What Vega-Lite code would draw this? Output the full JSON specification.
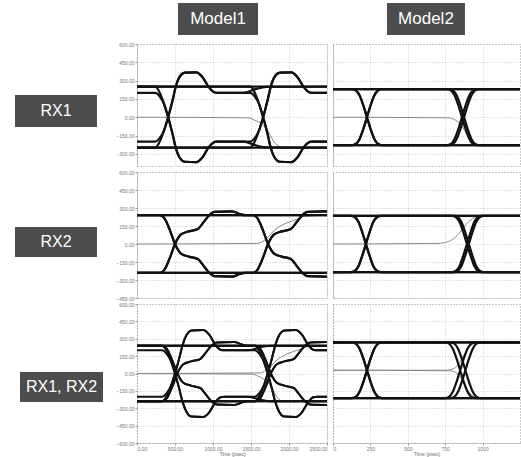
{
"$schema":"https://vega.github.io/schema/vega-lite/v6.json",
"padding":0,
"background":"white",
"columns":3,
"spacing":{"row":6,"column":6},
"bounds":"flush",
"align":"each",
"config":{
 "view":{"stroke":null},
 "axis":{"gridColor":"#bbb","gridDash":[1,2],"gridWidth":0.8,"domainColor":"#999","domainDash":[1,2],"tickColor":"#999","tickSize":2,"labelFontSize":5,"labelColor":"#777","labelFont":"Liberation Sans","labelPadding":1,"labelOverlap":false,"titleFontSize":5,"titleFont":"Liberation Sans","titleColor":"#666","titleFontWeight":"normal","titlePadding":0}
},
"datasets":{
"m1r1":[
{"s":"111","k":"eye","t":0,"v":250},{"s":"111","k":"eye","t":2500,"v":250},
{"s":"000","k":"eye","t":0,"v":-250},{"s":"000","k":"eye","t":2500,"v":-250},
{"s":"011","k":"eye","t":0,"v":-250},{"s":"011","k":"eye","t":240,"v":-250},{"s":"011","k":"eye","t":300,"v":-200},{"s":"011","k":"eye","t":355,"v":-110},{"s":"011","k":"eye","t":410,"v":0},{"s":"011","k":"eye","t":465,"v":130},{"s":"011","k":"eye","t":510,"v":250},{"s":"011","k":"eye","t":560,"v":330},{"s":"011","k":"eye","t":630,"v":365},{"s":"011","k":"eye","t":780,"v":368},{"s":"011","k":"eye","t":860,"v":330},{"s":"011","k":"eye","t":940,"v":250},{"s":"011","k":"eye","t":1000,"v":210},{"s":"011","k":"eye","t":1050,"v":200},{"s":"011","k":"eye","t":1400,"v":200},{"s":"011","k":"eye","t":1560,"v":230},{"s":"011","k":"eye","t":1700,"v":248},{"s":"011","k":"eye","t":2500,"v":250},
{"s":"010","k":"eye","t":0,"v":-200},{"s":"010","k":"eye","t":240,"v":-200},{"s":"010","k":"eye","t":300,"v":-170},{"s":"010","k":"eye","t":355,"v":-110},{"s":"010","k":"eye","t":410,"v":0},{"s":"010","k":"eye","t":465,"v":130},{"s":"010","k":"eye","t":510,"v":250},{"s":"010","k":"eye","t":560,"v":330},{"s":"010","k":"eye","t":630,"v":365},{"s":"010","k":"eye","t":780,"v":368},{"s":"010","k":"eye","t":860,"v":330},{"s":"010","k":"eye","t":940,"v":250},{"s":"010","k":"eye","t":1000,"v":210},{"s":"010","k":"eye","t":1050,"v":200},{"s":"010","k":"eye","t":1490,"v":200},{"s":"010","k":"eye","t":1550,"v":170},{"s":"010","k":"eye","t":1605,"v":110},{"s":"010","k":"eye","t":1660,"v":0},{"s":"010","k":"eye","t":1715,"v":-130},{"s":"010","k":"eye","t":1760,"v":-250},{"s":"010","k":"eye","t":1810,"v":-330},{"s":"010","k":"eye","t":1880,"v":-365},{"s":"010","k":"eye","t":2030,"v":-368},{"s":"010","k":"eye","t":2110,"v":-330},{"s":"010","k":"eye","t":2190,"v":-250},{"s":"010","k":"eye","t":2250,"v":-210},{"s":"010","k":"eye","t":2300,"v":-200},{"s":"010","k":"eye","t":2500,"v":-200},
{"s":"100","k":"eye","t":0,"v":250},{"s":"100","k":"eye","t":240,"v":250},{"s":"100","k":"eye","t":300,"v":200},{"s":"100","k":"eye","t":355,"v":110},{"s":"100","k":"eye","t":410,"v":0},{"s":"100","k":"eye","t":465,"v":-130},{"s":"100","k":"eye","t":510,"v":-250},{"s":"100","k":"eye","t":560,"v":-330},{"s":"100","k":"eye","t":630,"v":-365},{"s":"100","k":"eye","t":780,"v":-368},{"s":"100","k":"eye","t":860,"v":-330},{"s":"100","k":"eye","t":940,"v":-250},{"s":"100","k":"eye","t":1000,"v":-210},{"s":"100","k":"eye","t":1050,"v":-200},{"s":"100","k":"eye","t":1400,"v":-200},{"s":"100","k":"eye","t":1560,"v":-230},{"s":"100","k":"eye","t":1700,"v":-248},{"s":"100","k":"eye","t":2500,"v":-250},
{"s":"101","k":"eye","t":0,"v":200},{"s":"101","k":"eye","t":240,"v":200},{"s":"101","k":"eye","t":300,"v":170},{"s":"101","k":"eye","t":355,"v":110},{"s":"101","k":"eye","t":410,"v":0},{"s":"101","k":"eye","t":465,"v":-130},{"s":"101","k":"eye","t":510,"v":-250},{"s":"101","k":"eye","t":560,"v":-330},{"s":"101","k":"eye","t":630,"v":-365},{"s":"101","k":"eye","t":780,"v":-368},{"s":"101","k":"eye","t":860,"v":-330},{"s":"101","k":"eye","t":940,"v":-250},{"s":"101","k":"eye","t":1000,"v":-210},{"s":"101","k":"eye","t":1050,"v":-200},{"s":"101","k":"eye","t":1490,"v":-200},{"s":"101","k":"eye","t":1550,"v":-170},{"s":"101","k":"eye","t":1605,"v":-110},{"s":"101","k":"eye","t":1660,"v":0},{"s":"101","k":"eye","t":1715,"v":130},{"s":"101","k":"eye","t":1760,"v":250},{"s":"101","k":"eye","t":1810,"v":330},{"s":"101","k":"eye","t":1880,"v":365},{"s":"101","k":"eye","t":2030,"v":368},{"s":"101","k":"eye","t":2110,"v":330},{"s":"101","k":"eye","t":2190,"v":250},{"s":"101","k":"eye","t":2250,"v":210},{"s":"101","k":"eye","t":2300,"v":200},{"s":"101","k":"eye","t":2500,"v":200},
{"s":"110","k":"eye","t":0,"v":250},{"s":"110","k":"eye","t":1490,"v":250},{"s":"110","k":"eye","t":1550,"v":200},{"s":"110","k":"eye","t":1605,"v":110},{"s":"110","k":"eye","t":1660,"v":0},{"s":"110","k":"eye","t":1715,"v":-130},{"s":"110","k":"eye","t":1760,"v":-250},{"s":"110","k":"eye","t":1810,"v":-330},{"s":"110","k":"eye","t":1880,"v":-365},{"s":"110","k":"eye","t":2030,"v":-368},{"s":"110","k":"eye","t":2110,"v":-330},{"s":"110","k":"eye","t":2190,"v":-250},{"s":"110","k":"eye","t":2250,"v":-210},{"s":"110","k":"eye","t":2300,"v":-200},{"s":"110","k":"eye","t":2500,"v":-200},
{"s":"001","k":"eye","t":0,"v":-250},{"s":"001","k":"eye","t":1490,"v":-250},{"s":"001","k":"eye","t":1550,"v":-200},{"s":"001","k":"eye","t":1605,"v":-110},{"s":"001","k":"eye","t":1660,"v":0},{"s":"001","k":"eye","t":1715,"v":130},{"s":"001","k":"eye","t":1760,"v":250},{"s":"001","k":"eye","t":1810,"v":330},{"s":"001","k":"eye","t":1880,"v":365},{"s":"001","k":"eye","t":2030,"v":368},{"s":"001","k":"eye","t":2110,"v":330},{"s":"001","k":"eye","t":2190,"v":250},{"s":"001","k":"eye","t":2250,"v":210},{"s":"001","k":"eye","t":2300,"v":200},{"s":"001","k":"eye","t":2500,"v":200},
{"s":"r","k":"ref","t":0,"v":0},{"s":"r","k":"ref","t":1450,"v":-5},{"s":"r","k":"ref","t":1550,"v":-25},{"s":"r","k":"ref","t":1650,"v":-60},{"s":"r","k":"ref","t":1720,"v":-110},{"s":"r","k":"ref","t":1790,"v":-190},{"s":"r","k":"ref","t":1860,"v":-235},{"s":"r","k":"ref","t":1950,"v":-250},{"s":"r","k":"ref","t":2500,"v":-250}
],
"m2r1":[
{"s":"111","k":"eye","t":0,"v":230},{"s":"111","k":"eye","t":1250,"v":230},
{"s":"000","k":"eye","t":0,"v":-230},{"s":"000","k":"eye","t":1250,"v":-230},
{"s":"011","k":"eye","t":0,"v":-230},{"s":"011","k":"eye","t":127,"v":-230},{"s":"011","k":"eye","t":152,"v":-220},{"s":"011","k":"eye","t":177,"v":-180},{"s":"011","k":"eye","t":202,"v":-100},{"s":"011","k":"eye","t":227,"v":0},{"s":"011","k":"eye","t":252,"v":100},{"s":"011","k":"eye","t":277,"v":180},{"s":"011","k":"eye","t":302,"v":220},{"s":"011","k":"eye","t":327,"v":230},{"s":"011","k":"eye","t":1250,"v":230},
{"s":"010","k":"eye","t":0,"v":-230},{"s":"010","k":"eye","t":127,"v":-230},{"s":"010","k":"eye","t":152,"v":-220},{"s":"010","k":"eye","t":177,"v":-180},{"s":"010","k":"eye","t":202,"v":-100},{"s":"010","k":"eye","t":227,"v":0},{"s":"010","k":"eye","t":252,"v":100},{"s":"010","k":"eye","t":277,"v":180},{"s":"010","k":"eye","t":302,"v":220},{"s":"010","k":"eye","t":327,"v":230},{"s":"010","k":"eye","t":762,"v":230},{"s":"010","k":"eye","t":787,"v":220},{"s":"010","k":"eye","t":812,"v":180},{"s":"010","k":"eye","t":837,"v":100},{"s":"010","k":"eye","t":862,"v":0},{"s":"010","k":"eye","t":887,"v":-100},{"s":"010","k":"eye","t":912,"v":-180},{"s":"010","k":"eye","t":937,"v":-220},{"s":"010","k":"eye","t":962,"v":-230},{"s":"010","k":"eye","t":1250,"v":-230},
{"s":"100","k":"eye","t":0,"v":230},{"s":"100","k":"eye","t":127,"v":230},{"s":"100","k":"eye","t":152,"v":220},{"s":"100","k":"eye","t":177,"v":180},{"s":"100","k":"eye","t":202,"v":100},{"s":"100","k":"eye","t":227,"v":0},{"s":"100","k":"eye","t":252,"v":-100},{"s":"100","k":"eye","t":277,"v":-180},{"s":"100","k":"eye","t":302,"v":-220},{"s":"100","k":"eye","t":327,"v":-230},{"s":"100","k":"eye","t":1250,"v":-230},
{"s":"101","k":"eye","t":0,"v":230},{"s":"101","k":"eye","t":127,"v":230},{"s":"101","k":"eye","t":152,"v":220},{"s":"101","k":"eye","t":177,"v":180},{"s":"101","k":"eye","t":202,"v":100},{"s":"101","k":"eye","t":227,"v":0},{"s":"101","k":"eye","t":252,"v":-100},{"s":"101","k":"eye","t":277,"v":-180},{"s":"101","k":"eye","t":302,"v":-220},{"s":"101","k":"eye","t":327,"v":-230},{"s":"101","k":"eye","t":762,"v":-230},{"s":"101","k":"eye","t":787,"v":-220},{"s":"101","k":"eye","t":812,"v":-180},{"s":"101","k":"eye","t":837,"v":-100},{"s":"101","k":"eye","t":862,"v":0},{"s":"101","k":"eye","t":887,"v":100},{"s":"101","k":"eye","t":912,"v":180},{"s":"101","k":"eye","t":937,"v":220},{"s":"101","k":"eye","t":962,"v":230},{"s":"101","k":"eye","t":1250,"v":230},
{"s":"110","k":"eye","t":0,"v":230},{"s":"110","k":"eye","t":776,"v":230},{"s":"110","k":"eye","t":801,"v":220},{"s":"110","k":"eye","t":826,"v":180},{"s":"110","k":"eye","t":851,"v":100},{"s":"110","k":"eye","t":876,"v":0},{"s":"110","k":"eye","t":901,"v":-100},{"s":"110","k":"eye","t":926,"v":-180},{"s":"110","k":"eye","t":951,"v":-220},{"s":"110","k":"eye","t":976,"v":-230},{"s":"110","k":"eye","t":1250,"v":-230},
{"s":"001","k":"eye","t":0,"v":-230},{"s":"001","k":"eye","t":776,"v":-230},{"s":"001","k":"eye","t":801,"v":-220},{"s":"001","k":"eye","t":826,"v":-180},{"s":"001","k":"eye","t":851,"v":-100},{"s":"001","k":"eye","t":876,"v":0},{"s":"001","k":"eye","t":901,"v":100},{"s":"001","k":"eye","t":926,"v":180},{"s":"001","k":"eye","t":951,"v":220},{"s":"001","k":"eye","t":976,"v":230},{"s":"001","k":"eye","t":1250,"v":230},
{"s":"r","k":"ref","t":0,"v":0},{"s":"r","k":"ref","t":760,"v":-5},{"s":"r","k":"ref","t":820,"v":-25},{"s":"r","k":"ref","t":860,"v":-70},{"s":"r","k":"ref","t":900,"v":-150},{"s":"r","k":"ref","t":940,"v":-215},{"s":"r","k":"ref","t":990,"v":-230},{"s":"r","k":"ref","t":1250,"v":-230}
],
"m1r2":[
{"s":"111","k":"eye","t":0,"v":240},{"s":"111","k":"eye","t":2500,"v":240},
{"s":"000","k":"eye","t":0,"v":-240},{"s":"000","k":"eye","t":2500,"v":-240},
{"s":"011","k":"eye","t":0,"v":-240},{"s":"011","k":"eye","t":300,"v":-240},{"s":"011","k":"eye","t":360,"v":-215},{"s":"011","k":"eye","t":430,"v":-120},{"s":"011","k":"eye","t":500,"v":0},{"s":"011","k":"eye","t":580,"v":80},{"s":"011","k":"eye","t":680,"v":105},{"s":"011","k":"eye","t":800,"v":125},{"s":"011","k":"eye","t":880,"v":185},{"s":"011","k":"eye","t":950,"v":240},{"s":"011","k":"eye","t":1020,"v":268},{"s":"011","k":"eye","t":1250,"v":272},{"s":"011","k":"eye","t":1350,"v":250},{"s":"011","k":"eye","t":1420,"v":240},{"s":"011","k":"eye","t":2500,"v":240},
{"s":"010","k":"eye","t":0,"v":-240},{"s":"010","k":"eye","t":300,"v":-240},{"s":"010","k":"eye","t":360,"v":-215},{"s":"010","k":"eye","t":430,"v":-120},{"s":"010","k":"eye","t":500,"v":0},{"s":"010","k":"eye","t":580,"v":80},{"s":"010","k":"eye","t":680,"v":105},{"s":"010","k":"eye","t":800,"v":125},{"s":"010","k":"eye","t":880,"v":185},{"s":"010","k":"eye","t":950,"v":240},{"s":"010","k":"eye","t":1020,"v":268},{"s":"010","k":"eye","t":1250,"v":272},{"s":"010","k":"eye","t":1350,"v":250},{"s":"010","k":"eye","t":1420,"v":240},{"s":"010","k":"eye","t":1524,"v":240},{"s":"010","k":"eye","t":1584,"v":215},{"s":"010","k":"eye","t":1654,"v":120},{"s":"010","k":"eye","t":1724,"v":0},{"s":"010","k":"eye","t":1804,"v":-80},{"s":"010","k":"eye","t":1904,"v":-105},{"s":"010","k":"eye","t":2024,"v":-125},{"s":"010","k":"eye","t":2104,"v":-185},{"s":"010","k":"eye","t":2174,"v":-240},{"s":"010","k":"eye","t":2244,"v":-268},{"s":"010","k":"eye","t":2474,"v":-272},{"s":"010","k":"eye","t":2500,"v":-270},
{"s":"100","k":"eye","t":0,"v":240},{"s":"100","k":"eye","t":300,"v":240},{"s":"100","k":"eye","t":360,"v":215},{"s":"100","k":"eye","t":430,"v":120},{"s":"100","k":"eye","t":500,"v":0},{"s":"100","k":"eye","t":580,"v":-80},{"s":"100","k":"eye","t":680,"v":-105},{"s":"100","k":"eye","t":800,"v":-125},{"s":"100","k":"eye","t":880,"v":-185},{"s":"100","k":"eye","t":950,"v":-240},{"s":"100","k":"eye","t":1020,"v":-268},{"s":"100","k":"eye","t":1250,"v":-272},{"s":"100","k":"eye","t":1350,"v":-250},{"s":"100","k":"eye","t":1420,"v":-240},{"s":"100","k":"eye","t":2500,"v":-240},
{"s":"101","k":"eye","t":0,"v":240},{"s":"101","k":"eye","t":300,"v":240},{"s":"101","k":"eye","t":360,"v":215},{"s":"101","k":"eye","t":430,"v":120},{"s":"101","k":"eye","t":500,"v":0},{"s":"101","k":"eye","t":580,"v":-80},{"s":"101","k":"eye","t":680,"v":-105},{"s":"101","k":"eye","t":800,"v":-125},{"s":"101","k":"eye","t":880,"v":-185},{"s":"101","k":"eye","t":950,"v":-240},{"s":"101","k":"eye","t":1020,"v":-268},{"s":"101","k":"eye","t":1250,"v":-272},{"s":"101","k":"eye","t":1350,"v":-250},{"s":"101","k":"eye","t":1420,"v":-240},{"s":"101","k":"eye","t":1524,"v":-240},{"s":"101","k":"eye","t":1584,"v":-215},{"s":"101","k":"eye","t":1654,"v":-120},{"s":"101","k":"eye","t":1724,"v":0},{"s":"101","k":"eye","t":1804,"v":80},{"s":"101","k":"eye","t":1904,"v":105},{"s":"101","k":"eye","t":2024,"v":125},{"s":"101","k":"eye","t":2104,"v":185},{"s":"101","k":"eye","t":2174,"v":240},{"s":"101","k":"eye","t":2244,"v":268},{"s":"101","k":"eye","t":2474,"v":272},{"s":"101","k":"eye","t":2500,"v":270},
{"s":"110","k":"eye","t":0,"v":240},{"s":"110","k":"eye","t":1524,"v":240},{"s":"110","k":"eye","t":1584,"v":215},{"s":"110","k":"eye","t":1654,"v":120},{"s":"110","k":"eye","t":1724,"v":0},{"s":"110","k":"eye","t":1804,"v":-80},{"s":"110","k":"eye","t":1904,"v":-105},{"s":"110","k":"eye","t":2024,"v":-125},{"s":"110","k":"eye","t":2104,"v":-185},{"s":"110","k":"eye","t":2174,"v":-240},{"s":"110","k":"eye","t":2244,"v":-268},{"s":"110","k":"eye","t":2474,"v":-272},{"s":"110","k":"eye","t":2500,"v":-270},
{"s":"001","k":"eye","t":0,"v":-240},{"s":"001","k":"eye","t":1524,"v":-240},{"s":"001","k":"eye","t":1584,"v":-215},{"s":"001","k":"eye","t":1654,"v":-120},{"s":"001","k":"eye","t":1724,"v":0},{"s":"001","k":"eye","t":1804,"v":80},{"s":"001","k":"eye","t":1904,"v":105},{"s":"001","k":"eye","t":2024,"v":125},{"s":"001","k":"eye","t":2104,"v":185},{"s":"001","k":"eye","t":2174,"v":240},{"s":"001","k":"eye","t":2244,"v":268},{"s":"001","k":"eye","t":2474,"v":272},{"s":"001","k":"eye","t":2500,"v":270},
{"s":"r","k":"ref","t":0,"v":0},{"s":"r","k":"ref","t":1580,"v":5},{"s":"r","k":"ref","t":1650,"v":20},{"s":"r","k":"ref","t":1730,"v":60},{"s":"r","k":"ref","t":1800,"v":110},{"s":"r","k":"ref","t":1860,"v":140},{"s":"r","k":"ref","t":1950,"v":170},{"s":"r","k":"ref","t":2100,"v":205},{"s":"r","k":"ref","t":2200,"v":230},{"s":"r","k":"ref","t":2500,"v":240}
],
"m2r2":[
{"s":"111","k":"eye","t":0,"v":235},{"s":"111","k":"eye","t":1250,"v":235},
{"s":"000","k":"eye","t":0,"v":-235},{"s":"000","k":"eye","t":1250,"v":-235},
{"s":"011","k":"eye","t":0,"v":-235},{"s":"011","k":"eye","t":120,"v":-235},{"s":"011","k":"eye","t":145,"v":-225},{"s":"011","k":"eye","t":170,"v":-185},{"s":"011","k":"eye","t":195,"v":-100},{"s":"011","k":"eye","t":220,"v":0},{"s":"011","k":"eye","t":245,"v":100},{"s":"011","k":"eye","t":270,"v":185},{"s":"011","k":"eye","t":295,"v":225},{"s":"011","k":"eye","t":320,"v":235},{"s":"011","k":"eye","t":1250,"v":235},
{"s":"010","k":"eye","t":0,"v":-235},{"s":"010","k":"eye","t":120,"v":-235},{"s":"010","k":"eye","t":145,"v":-225},{"s":"010","k":"eye","t":170,"v":-185},{"s":"010","k":"eye","t":195,"v":-100},{"s":"010","k":"eye","t":220,"v":0},{"s":"010","k":"eye","t":245,"v":100},{"s":"010","k":"eye","t":270,"v":185},{"s":"010","k":"eye","t":295,"v":225},{"s":"010","k":"eye","t":320,"v":235},{"s":"010","k":"eye","t":795,"v":235},{"s":"010","k":"eye","t":820,"v":225},{"s":"010","k":"eye","t":845,"v":185},{"s":"010","k":"eye","t":870,"v":100},{"s":"010","k":"eye","t":895,"v":0},{"s":"010","k":"eye","t":920,"v":-100},{"s":"010","k":"eye","t":945,"v":-185},{"s":"010","k":"eye","t":970,"v":-225},{"s":"010","k":"eye","t":995,"v":-235},{"s":"010","k":"eye","t":1250,"v":-235},
{"s":"100","k":"eye","t":0,"v":235},{"s":"100","k":"eye","t":120,"v":235},{"s":"100","k":"eye","t":145,"v":225},{"s":"100","k":"eye","t":170,"v":185},{"s":"100","k":"eye","t":195,"v":100},{"s":"100","k":"eye","t":220,"v":0},{"s":"100","k":"eye","t":245,"v":-100},{"s":"100","k":"eye","t":270,"v":-185},{"s":"100","k":"eye","t":295,"v":-225},{"s":"100","k":"eye","t":320,"v":-235},{"s":"100","k":"eye","t":1250,"v":-235},
{"s":"101","k":"eye","t":0,"v":235},{"s":"101","k":"eye","t":120,"v":235},{"s":"101","k":"eye","t":145,"v":225},{"s":"101","k":"eye","t":170,"v":185},{"s":"101","k":"eye","t":195,"v":100},{"s":"101","k":"eye","t":220,"v":0},{"s":"101","k":"eye","t":245,"v":-100},{"s":"101","k":"eye","t":270,"v":-185},{"s":"101","k":"eye","t":295,"v":-225},{"s":"101","k":"eye","t":320,"v":-235},{"s":"101","k":"eye","t":795,"v":-235},{"s":"101","k":"eye","t":820,"v":-225},{"s":"101","k":"eye","t":845,"v":-185},{"s":"101","k":"eye","t":870,"v":-100},{"s":"101","k":"eye","t":895,"v":0},{"s":"101","k":"eye","t":920,"v":100},{"s":"101","k":"eye","t":945,"v":185},{"s":"101","k":"eye","t":970,"v":225},{"s":"101","k":"eye","t":995,"v":235},{"s":"101","k":"eye","t":1250,"v":235},
{"s":"110","k":"eye","t":0,"v":235},{"s":"110","k":"eye","t":808,"v":235},{"s":"110","k":"eye","t":833,"v":225},{"s":"110","k":"eye","t":858,"v":185},{"s":"110","k":"eye","t":883,"v":100},{"s":"110","k":"eye","t":908,"v":0},{"s":"110","k":"eye","t":933,"v":-100},{"s":"110","k":"eye","t":958,"v":-185},{"s":"110","k":"eye","t":983,"v":-225},{"s":"110","k":"eye","t":1008,"v":-235},{"s":"110","k":"eye","t":1250,"v":-235},
{"s":"001","k":"eye","t":0,"v":-235},{"s":"001","k":"eye","t":808,"v":-235},{"s":"001","k":"eye","t":833,"v":-225},{"s":"001","k":"eye","t":858,"v":-185},{"s":"001","k":"eye","t":883,"v":-100},{"s":"001","k":"eye","t":908,"v":0},{"s":"001","k":"eye","t":933,"v":100},{"s":"001","k":"eye","t":958,"v":185},{"s":"001","k":"eye","t":983,"v":225},{"s":"001","k":"eye","t":1008,"v":235},{"s":"001","k":"eye","t":1250,"v":235},
{"s":"r","k":"ref","t":0,"v":0},{"s":"r","k":"ref","t":700,"v":5},{"s":"r","k":"ref","t":770,"v":20},{"s":"r","k":"ref","t":830,"v":70},{"s":"r","k":"ref","t":880,"v":150},{"s":"r","k":"ref","t":930,"v":210},{"s":"r","k":"ref","t":980,"v":235},{"s":"r","k":"ref","t":1250,"v":235}
],
"m1r3":[
{"s":"q111","k":"eye","t":0,"v":240},{"s":"q111","k":"eye","t":2500,"v":240},
{"s":"q000","k":"eye","t":0,"v":-240},{"s":"q000","k":"eye","t":2500,"v":-240},
{"s":"p011","k":"eye","t":0,"v":-240},{"s":"p011","k":"eye","t":330,"v":-240},{"s":"p011","k":"eye","t":390,"v":-195},{"s":"p011","k":"eye","t":445,"v":-110},{"s":"p011","k":"eye","t":500,"v":0},{"s":"p011","k":"eye","t":555,"v":130},{"s":"p011","k":"eye","t":600,"v":245},{"s":"p011","k":"eye","t":650,"v":330},{"s":"p011","k":"eye","t":720,"v":372},{"s":"p011","k":"eye","t":870,"v":376},{"s":"p011","k":"eye","t":950,"v":335},{"s":"p011","k":"eye","t":1030,"v":250},{"s":"p011","k":"eye","t":1100,"v":205},{"s":"p011","k":"eye","t":1150,"v":200},{"s":"p011","k":"eye","t":1460,"v":200},{"s":"p011","k":"eye","t":1620,"v":225},{"s":"p011","k":"eye","t":1760,"v":240},{"s":"p011","k":"eye","t":2500,"v":240},
{"s":"p010","k":"eye","t":0,"v":-200},{"s":"p010","k":"eye","t":330,"v":-200},{"s":"p010","k":"eye","t":390,"v":-170},{"s":"p010","k":"eye","t":445,"v":-110},{"s":"p010","k":"eye","t":500,"v":0},{"s":"p010","k":"eye","t":555,"v":130},{"s":"p010","k":"eye","t":600,"v":245},{"s":"p010","k":"eye","t":650,"v":330},{"s":"p010","k":"eye","t":720,"v":372},{"s":"p010","k":"eye","t":870,"v":376},{"s":"p010","k":"eye","t":950,"v":335},{"s":"p010","k":"eye","t":1030,"v":250},{"s":"p010","k":"eye","t":1100,"v":205},{"s":"p010","k":"eye","t":1150,"v":200},{"s":"p010","k":"eye","t":1550,"v":200},{"s":"p010","k":"eye","t":1610,"v":170},{"s":"p010","k":"eye","t":1665,"v":110},{"s":"p010","k":"eye","t":1720,"v":0},{"s":"p010","k":"eye","t":1775,"v":-130},{"s":"p010","k":"eye","t":1820,"v":-245},{"s":"p010","k":"eye","t":1870,"v":-330},{"s":"p010","k":"eye","t":1940,"v":-372},{"s":"p010","k":"eye","t":2090,"v":-376},{"s":"p010","k":"eye","t":2170,"v":-335},{"s":"p010","k":"eye","t":2250,"v":-250},{"s":"p010","k":"eye","t":2320,"v":-205},{"s":"p010","k":"eye","t":2370,"v":-200},{"s":"p010","k":"eye","t":2500,"v":-200},
{"s":"p100","k":"eye","t":0,"v":240},{"s":"p100","k":"eye","t":330,"v":240},{"s":"p100","k":"eye","t":390,"v":195},{"s":"p100","k":"eye","t":445,"v":110},{"s":"p100","k":"eye","t":500,"v":0},{"s":"p100","k":"eye","t":555,"v":-130},{"s":"p100","k":"eye","t":600,"v":-245},{"s":"p100","k":"eye","t":650,"v":-330},{"s":"p100","k":"eye","t":720,"v":-372},{"s":"p100","k":"eye","t":870,"v":-376},{"s":"p100","k":"eye","t":950,"v":-335},{"s":"p100","k":"eye","t":1030,"v":-250},{"s":"p100","k":"eye","t":1100,"v":-205},{"s":"p100","k":"eye","t":1150,"v":-200},{"s":"p100","k":"eye","t":1460,"v":-200},{"s":"p100","k":"eye","t":1620,"v":-225},{"s":"p100","k":"eye","t":1760,"v":-240},{"s":"p100","k":"eye","t":2500,"v":-240},
{"s":"p101","k":"eye","t":0,"v":200},{"s":"p101","k":"eye","t":330,"v":200},{"s":"p101","k":"eye","t":390,"v":170},{"s":"p101","k":"eye","t":445,"v":110},{"s":"p101","k":"eye","t":500,"v":0},{"s":"p101","k":"eye","t":555,"v":-130},{"s":"p101","k":"eye","t":600,"v":-245},{"s":"p101","k":"eye","t":650,"v":-330},{"s":"p101","k":"eye","t":720,"v":-372},{"s":"p101","k":"eye","t":870,"v":-376},{"s":"p101","k":"eye","t":950,"v":-335},{"s":"p101","k":"eye","t":1030,"v":-250},{"s":"p101","k":"eye","t":1100,"v":-205},{"s":"p101","k":"eye","t":1150,"v":-200},{"s":"p101","k":"eye","t":1550,"v":-200},{"s":"p101","k":"eye","t":1610,"v":-170},{"s":"p101","k":"eye","t":1665,"v":-110},{"s":"p101","k":"eye","t":1720,"v":0},{"s":"p101","k":"eye","t":1775,"v":130},{"s":"p101","k":"eye","t":1820,"v":245},{"s":"p101","k":"eye","t":1870,"v":330},{"s":"p101","k":"eye","t":1940,"v":372},{"s":"p101","k":"eye","t":2090,"v":376},{"s":"p101","k":"eye","t":2170,"v":335},{"s":"p101","k":"eye","t":2250,"v":250},{"s":"p101","k":"eye","t":2320,"v":205},{"s":"p101","k":"eye","t":2370,"v":200},{"s":"p101","k":"eye","t":2500,"v":200},
{"s":"p110","k":"eye","t":0,"v":240},{"s":"p110","k":"eye","t":1550,"v":240},{"s":"p110","k":"eye","t":1610,"v":195},{"s":"p110","k":"eye","t":1665,"v":110},{"s":"p110","k":"eye","t":1720,"v":0},{"s":"p110","k":"eye","t":1775,"v":-130},{"s":"p110","k":"eye","t":1820,"v":-245},{"s":"p110","k":"eye","t":1870,"v":-330},{"s":"p110","k":"eye","t":1940,"v":-372},{"s":"p110","k":"eye","t":2090,"v":-376},{"s":"p110","k":"eye","t":2170,"v":-335},{"s":"p110","k":"eye","t":2250,"v":-250},{"s":"p110","k":"eye","t":2320,"v":-205},{"s":"p110","k":"eye","t":2370,"v":-200},{"s":"p110","k":"eye","t":2500,"v":-200},
{"s":"p001","k":"eye","t":0,"v":-240},{"s":"p001","k":"eye","t":1550,"v":-240},{"s":"p001","k":"eye","t":1610,"v":-195},{"s":"p001","k":"eye","t":1665,"v":-110},{"s":"p001","k":"eye","t":1720,"v":0},{"s":"p001","k":"eye","t":1775,"v":130},{"s":"p001","k":"eye","t":1820,"v":245},{"s":"p001","k":"eye","t":1870,"v":330},{"s":"p001","k":"eye","t":1940,"v":372},{"s":"p001","k":"eye","t":2090,"v":376},{"s":"p001","k":"eye","t":2170,"v":335},{"s":"p001","k":"eye","t":2250,"v":250},{"s":"p001","k":"eye","t":2320,"v":205},{"s":"p001","k":"eye","t":2370,"v":200},{"s":"p001","k":"eye","t":2500,"v":200},
{"s":"q011","k":"eye","t":0,"v":-240},{"s":"q011","k":"eye","t":330,"v":-240},{"s":"q011","k":"eye","t":390,"v":-215},{"s":"q011","k":"eye","t":460,"v":-120},{"s":"q011","k":"eye","t":530,"v":0},{"s":"q011","k":"eye","t":610,"v":80},{"s":"q011","k":"eye","t":710,"v":105},{"s":"q011","k":"eye","t":830,"v":125},{"s":"q011","k":"eye","t":910,"v":185},{"s":"q011","k":"eye","t":980,"v":240},{"s":"q011","k":"eye","t":1050,"v":268},{"s":"q011","k":"eye","t":1280,"v":272},{"s":"q011","k":"eye","t":1380,"v":250},{"s":"q011","k":"eye","t":1450,"v":240},{"s":"q011","k":"eye","t":2500,"v":240},
{"s":"q010","k":"eye","t":0,"v":-240},{"s":"q010","k":"eye","t":330,"v":-240},{"s":"q010","k":"eye","t":390,"v":-215},{"s":"q010","k":"eye","t":460,"v":-120},{"s":"q010","k":"eye","t":530,"v":0},{"s":"q010","k":"eye","t":610,"v":80},{"s":"q010","k":"eye","t":710,"v":105},{"s":"q010","k":"eye","t":830,"v":125},{"s":"q010","k":"eye","t":910,"v":185},{"s":"q010","k":"eye","t":980,"v":240},{"s":"q010","k":"eye","t":1050,"v":268},{"s":"q010","k":"eye","t":1280,"v":272},{"s":"q010","k":"eye","t":1380,"v":250},{"s":"q010","k":"eye","t":1450,"v":240},{"s":"q010","k":"eye","t":1560,"v":240},{"s":"q010","k":"eye","t":1620,"v":215},{"s":"q010","k":"eye","t":1690,"v":120},{"s":"q010","k":"eye","t":1760,"v":0},{"s":"q010","k":"eye","t":1840,"v":-80},{"s":"q010","k":"eye","t":1940,"v":-105},{"s":"q010","k":"eye","t":2060,"v":-125},{"s":"q010","k":"eye","t":2140,"v":-185},{"s":"q010","k":"eye","t":2210,"v":-240},{"s":"q010","k":"eye","t":2280,"v":-268},{"s":"q010","k":"eye","t":2500,"v":-272},
{"s":"q100","k":"eye","t":0,"v":240},{"s":"q100","k":"eye","t":330,"v":240},{"s":"q100","k":"eye","t":390,"v":215},{"s":"q100","k":"eye","t":460,"v":120},{"s":"q100","k":"eye","t":530,"v":0},{"s":"q100","k":"eye","t":610,"v":-80},{"s":"q100","k":"eye","t":710,"v":-105},{"s":"q100","k":"eye","t":830,"v":-125},{"s":"q100","k":"eye","t":910,"v":-185},{"s":"q100","k":"eye","t":980,"v":-240},{"s":"q100","k":"eye","t":1050,"v":-268},{"s":"q100","k":"eye","t":1280,"v":-272},{"s":"q100","k":"eye","t":1380,"v":-250},{"s":"q100","k":"eye","t":1450,"v":-240},{"s":"q100","k":"eye","t":2500,"v":-240},
{"s":"q101","k":"eye","t":0,"v":240},{"s":"q101","k":"eye","t":330,"v":240},{"s":"q101","k":"eye","t":390,"v":215},{"s":"q101","k":"eye","t":460,"v":120},{"s":"q101","k":"eye","t":530,"v":0},{"s":"q101","k":"eye","t":610,"v":-80},{"s":"q101","k":"eye","t":710,"v":-105},{"s":"q101","k":"eye","t":830,"v":-125},{"s":"q101","k":"eye","t":910,"v":-185},{"s":"q101","k":"eye","t":980,"v":-240},{"s":"q101","k":"eye","t":1050,"v":-268},{"s":"q101","k":"eye","t":1280,"v":-272},{"s":"q101","k":"eye","t":1380,"v":-250},{"s":"q101","k":"eye","t":1450,"v":-240},{"s":"q101","k":"eye","t":1560,"v":-240},{"s":"q101","k":"eye","t":1620,"v":-215},{"s":"q101","k":"eye","t":1690,"v":-120},{"s":"q101","k":"eye","t":1760,"v":0},{"s":"q101","k":"eye","t":1840,"v":80},{"s":"q101","k":"eye","t":1940,"v":105},{"s":"q101","k":"eye","t":2060,"v":125},{"s":"q101","k":"eye","t":2140,"v":185},{"s":"q101","k":"eye","t":2210,"v":240},{"s":"q101","k":"eye","t":2280,"v":268},{"s":"q101","k":"eye","t":2500,"v":272},
{"s":"q110","k":"eye","t":0,"v":240},{"s":"q110","k":"eye","t":1560,"v":240},{"s":"q110","k":"eye","t":1620,"v":215},{"s":"q110","k":"eye","t":1690,"v":120},{"s":"q110","k":"eye","t":1760,"v":0},{"s":"q110","k":"eye","t":1840,"v":-80},{"s":"q110","k":"eye","t":1940,"v":-105},{"s":"q110","k":"eye","t":2060,"v":-125},{"s":"q110","k":"eye","t":2140,"v":-185},{"s":"q110","k":"eye","t":2210,"v":-240},{"s":"q110","k":"eye","t":2280,"v":-268},{"s":"q110","k":"eye","t":2500,"v":-272},
{"s":"q001","k":"eye","t":0,"v":-240},{"s":"q001","k":"eye","t":1560,"v":-240},{"s":"q001","k":"eye","t":1620,"v":-215},{"s":"q001","k":"eye","t":1690,"v":-120},{"s":"q001","k":"eye","t":1760,"v":0},{"s":"q001","k":"eye","t":1840,"v":80},{"s":"q001","k":"eye","t":1940,"v":105},{"s":"q001","k":"eye","t":2060,"v":125},{"s":"q001","k":"eye","t":2140,"v":185},{"s":"q001","k":"eye","t":2210,"v":240},{"s":"q001","k":"eye","t":2280,"v":268},{"s":"q001","k":"eye","t":2500,"v":272},
{"s":"r1","k":"ref","t":0,"v":0},{"s":"r1","k":"ref","t":1500,"v":-5},{"s":"r1","k":"ref","t":1600,"v":-25},{"s":"r1","k":"ref","t":1690,"v":-60},{"s":"r1","k":"ref","t":1760,"v":-110},{"s":"r1","k":"ref","t":1830,"v":-190},{"s":"r1","k":"ref","t":1900,"v":-235},{"s":"r1","k":"ref","t":2000,"v":-240},{"s":"r1","k":"ref","t":2500,"v":-240},
{"s":"r2","k":"ref","t":0,"v":0},{"s":"r2","k":"ref","t":1600,"v":5},{"s":"r2","k":"ref","t":1680,"v":20},{"s":"r2","k":"ref","t":1760,"v":60},{"s":"r2","k":"ref","t":1830,"v":110},{"s":"r2","k":"ref","t":1890,"v":140},{"s":"r2","k":"ref","t":1980,"v":170},{"s":"r2","k":"ref","t":2130,"v":205},{"s":"r2","k":"ref","t":2230,"v":230},{"s":"r2","k":"ref","t":2500,"v":240}
],
"m2r3":[
{"s":"111","k":"eye","t":0,"v":268},{"s":"111","k":"eye","t":1250,"v":268},
{"s":"000","k":"eye","t":0,"v":-212},{"s":"000","k":"eye","t":1250,"v":-212},
{"s":"011","k":"eye","t":0,"v":-212},{"s":"011","k":"eye","t":127,"v":-212},{"s":"011","k":"eye","t":152,"v":-202},{"s":"011","k":"eye","t":177,"v":-160},{"s":"011","k":"eye","t":202,"v":-76},{"s":"011","k":"eye","t":227,"v":28},{"s":"011","k":"eye","t":252,"v":132},{"s":"011","k":"eye","t":277,"v":216},{"s":"011","k":"eye","t":302,"v":258},{"s":"011","k":"eye","t":327,"v":268},{"s":"011","k":"eye","t":1250,"v":268},
{"s":"010","k":"eye","t":0,"v":-212},{"s":"010","k":"eye","t":127,"v":-212},{"s":"010","k":"eye","t":152,"v":-202},{"s":"010","k":"eye","t":177,"v":-160},{"s":"010","k":"eye","t":202,"v":-76},{"s":"010","k":"eye","t":227,"v":28},{"s":"010","k":"eye","t":252,"v":132},{"s":"010","k":"eye","t":277,"v":216},{"s":"010","k":"eye","t":302,"v":258},{"s":"010","k":"eye","t":327,"v":268},{"s":"010","k":"eye","t":750,"v":268},{"s":"010","k":"eye","t":775,"v":258},{"s":"010","k":"eye","t":800,"v":216},{"s":"010","k":"eye","t":825,"v":132},{"s":"010","k":"eye","t":850,"v":28},{"s":"010","k":"eye","t":875,"v":-76},{"s":"010","k":"eye","t":900,"v":-160},{"s":"010","k":"eye","t":925,"v":-202},{"s":"010","k":"eye","t":950,"v":-212},{"s":"010","k":"eye","t":1250,"v":-212},
{"s":"100","k":"eye","t":0,"v":268},{"s":"100","k":"eye","t":127,"v":268},{"s":"100","k":"eye","t":152,"v":258},{"s":"100","k":"eye","t":177,"v":216},{"s":"100","k":"eye","t":202,"v":132},{"s":"100","k":"eye","t":227,"v":28},{"s":"100","k":"eye","t":252,"v":-76},{"s":"100","k":"eye","t":277,"v":-160},{"s":"100","k":"eye","t":302,"v":-202},{"s":"100","k":"eye","t":327,"v":-212},{"s":"100","k":"eye","t":1250,"v":-212},
{"s":"101","k":"eye","t":0,"v":268},{"s":"101","k":"eye","t":127,"v":268},{"s":"101","k":"eye","t":152,"v":258},{"s":"101","k":"eye","t":177,"v":216},{"s":"101","k":"eye","t":202,"v":132},{"s":"101","k":"eye","t":227,"v":28},{"s":"101","k":"eye","t":252,"v":-76},{"s":"101","k":"eye","t":277,"v":-160},{"s":"101","k":"eye","t":302,"v":-202},{"s":"101","k":"eye","t":327,"v":-212},{"s":"101","k":"eye","t":750,"v":-212},{"s":"101","k":"eye","t":775,"v":-202},{"s":"101","k":"eye","t":800,"v":-160},{"s":"101","k":"eye","t":825,"v":-76},{"s":"101","k":"eye","t":850,"v":28},{"s":"101","k":"eye","t":875,"v":132},{"s":"101","k":"eye","t":900,"v":216},{"s":"101","k":"eye","t":925,"v":258},{"s":"101","k":"eye","t":950,"v":268},{"s":"101","k":"eye","t":1250,"v":268},
{"s":"110","k":"eye","t":0,"v":268},{"s":"110","k":"eye","t":785,"v":268},{"s":"110","k":"eye","t":810,"v":258},{"s":"110","k":"eye","t":835,"v":216},{"s":"110","k":"eye","t":860,"v":132},{"s":"110","k":"eye","t":885,"v":28},{"s":"110","k":"eye","t":910,"v":-76},{"s":"110","k":"eye","t":935,"v":-160},{"s":"110","k":"eye","t":960,"v":-202},{"s":"110","k":"eye","t":985,"v":-212},{"s":"110","k":"eye","t":1250,"v":-212},
{"s":"001","k":"eye","t":0,"v":-212},{"s":"001","k":"eye","t":785,"v":-212},{"s":"001","k":"eye","t":810,"v":-202},{"s":"001","k":"eye","t":835,"v":-160},{"s":"001","k":"eye","t":860,"v":-76},{"s":"001","k":"eye","t":885,"v":28},{"s":"001","k":"eye","t":910,"v":132},{"s":"001","k":"eye","t":935,"v":216},{"s":"001","k":"eye","t":960,"v":258},{"s":"001","k":"eye","t":985,"v":268},{"s":"001","k":"eye","t":1250,"v":268},
{"s":"r1","k":"ref","t":0,"v":28},{"s":"r1","k":"ref","t":760,"v":28},{"s":"r1","k":"ref","t":810,"v":45},{"s":"r1","k":"ref","t":850,"v":100},{"s":"r1","k":"ref","t":890,"v":190},{"s":"r1","k":"ref","t":930,"v":250},{"s":"r1","k":"ref","t":970,"v":266},{"s":"r1","k":"ref","t":1250,"v":268},
{"s":"r2","k":"ref","t":0,"v":28},{"s":"r2","k":"ref","t":780,"v":24},{"s":"r2","k":"ref","t":830,"v":0},{"s":"r2","k":"ref","t":870,"v":-70},{"s":"r2","k":"ref","t":910,"v":-160},{"s":"r2","k":"ref","t":950,"v":-205},{"s":"r2","k":"ref","t":990,"v":-212},{"s":"r2","k":"ref","t":1250,"v":-212}
]
},
"concat":[
{"width":131,"height":38,"view":{"stroke":null,"fill":"white"},"data":{"values":[{"h":""}]},"mark":{"type":"text","text":""}},
{"width":190,"height":38,"view":{"stroke":null,"fill":"white"},"data":{"values":[{"h":"Model1"}]},
 "encoding":{"x":{"field":"h","type":"nominal","axis":null,"scale":{"type":"band","paddingInner":0,"paddingOuter":0.6875,"align":0.373}},
  "y":{"field":"h","type":"nominal","axis":null,"scale":{"type":"band","paddingInner":0,"paddingOuter":0.094,"align":0.5}}},
 "layer":[{"mark":{"type":"rect","color":"#4d4d4d"}},{"mark":{"type":"text","color":"white","fontSize":17,"font":"Liberation Sans"},"encoding":{"text":{"field":"h"}}}]},
{"width":187,"height":38,"view":{"stroke":null,"fill":"white"},"data":{"values":[{"h":"Model2"}]},
 "encoding":{"x":{"field":"h","type":"nominal","axis":null,"scale":{"type":"band","paddingInner":0,"paddingOuter":0.699,"align":0.495}},
  "y":{"field":"h","type":"nominal","axis":null,"scale":{"type":"band","paddingInner":0,"paddingOuter":0.094,"align":0.5}}},
 "layer":[{"mark":{"type":"rect","color":"#4d4d4d"}},{"mark":{"type":"text","color":"white","fontSize":17,"font":"Liberation Sans"},"encoding":{"text":{"field":"h"}}}]},
{"width":131,"height":122,"view":{"stroke":null,"fill":"white"},"data":{"values":[{"h":"RX1"}]},
 "encoding":{"x":{"field":"h","type":"nominal","axis":null,"scale":{"type":"band","paddingInner":0,"paddingOuter":0.299,"align":0.306}},
  "y":{"field":"h","type":"nominal","axis":null,"scale":{"type":"band","paddingInner":0.289,"paddingOuter":1,"align":0.567}}},
 "layer":[{"mark":{"type":"rect","color":"#4d4d4d"}},{"mark":{"type":"text","color":"white","fontSize":16,"font":"Liberation Sans"},"encoding":{"text":{"field":"h"}}}]},
{"width":190,"height":122,"view":{"stroke":"#999","strokeDash":[1,2]},"data":{"name":"m1r1"},
 "encoding":{"x":{"field":"t","type":"quantitative","scale":{"domain":[0,2500],"nice":false},"axis":{"values":[0,500,1000,1500,2000,2500],"labels":false,"ticks":false,"domain":false,"title":null}},
  "y":{"field":"v","type":"quantitative","scale":{"domain":[-400,600],"nice":false},"axis":{"values":[-300,-150,0,150,300,450,600],"format":".2f","title":null}},
  "detail":{"field":"s"}},
 "layer":[{"transform":[{"filter":"datum.k=='ref'"}],"mark":{"type":"line","interpolate":"monotone","color":"#888","strokeWidth":1}},
  {"transform":[{"filter":"datum.k=='eye'"}],"mark":{"type":"line","interpolate":"monotone","color":"#111","strokeWidth":2.2}}]},
{"width":187,"height":122,"view":{"stroke":"#999","strokeDash":[1,2]},"data":{"name":"m2r1"},
 "encoding":{"x":{"field":"t","type":"quantitative","scale":{"domain":[0,1250],"nice":false},"axis":{"values":[0,250,500,750,1000],"labels":false,"ticks":false,"domain":false,"title":null}},
  "y":{"field":"v","type":"quantitative","scale":{"domain":[-400,600],"nice":false},"axis":{"values":[-300,-150,0,150,300,450,600],"labels":false,"ticks":false,"title":null}},
  "detail":{"field":"s"}},
 "layer":[{"transform":[{"filter":"datum.k=='ref'"}],"mark":{"type":"line","interpolate":"monotone","color":"#888","strokeWidth":1}},
  {"transform":[{"filter":"datum.k=='eye'"}],"mark":{"type":"line","interpolate":"monotone","color":"#111","strokeWidth":2.2}}]},
{"width":131,"height":126,"view":{"stroke":null,"fill":"white"},"data":{"values":[{"h":"RX2"}]},
 "encoding":{"x":{"field":"h","type":"nominal","axis":null,"scale":{"type":"band","paddingInner":0,"paddingOuter":0.299,"align":0.306}},
  "y":{"field":"h","type":"nominal","axis":null,"scale":{"type":"band","paddingInner":0.375,"paddingOuter":1,"align":0.573}}},
 "layer":[{"mark":{"type":"rect","color":"#4d4d4d"}},{"mark":{"type":"text","color":"white","fontSize":16,"font":"Liberation Sans"},"encoding":{"text":{"field":"h"}}}]},
{"width":190,"height":126,"view":{"stroke":"#999","strokeDash":[1,2]},"data":{"name":"m1r2"},
 "encoding":{"x":{"field":"t","type":"quantitative","scale":{"domain":[0,2500],"nice":false},"axis":{"values":[0,500,1000,1500,2000,2500],"labels":false,"ticks":false,"domain":false,"title":null}},
  "y":{"field":"v","type":"quantitative","scale":{"domain":[-450,600],"nice":false},"axis":{"values":[-450,-300,-150,0,150,300,450,600],"format":".2f","title":null}},
  "detail":{"field":"s"}},
 "layer":[{"transform":[{"filter":"datum.k=='ref'"}],"mark":{"type":"line","interpolate":"monotone","color":"#888","strokeWidth":1}},
  {"transform":[{"filter":"datum.k=='eye'"}],"mark":{"type":"line","interpolate":"monotone","color":"#111","strokeWidth":2.2}}]},
{"width":187,"height":126,"view":{"stroke":"#999","strokeDash":[1,2]},"data":{"name":"m2r2"},
 "encoding":{"x":{"field":"t","type":"quantitative","scale":{"domain":[0,1250],"nice":false},"axis":{"values":[0,250,500,750,1000],"labels":false,"ticks":false,"domain":false,"title":null}},
  "y":{"field":"v","type":"quantitative","scale":{"domain":[-450,600],"nice":false},"axis":{"values":[-450,-300,-150,0,150,300,450,600],"labels":false,"ticks":false,"title":null}},
  "detail":{"field":"s"}},
 "layer":[{"transform":[{"filter":"datum.k=='ref'"}],"mark":{"type":"line","interpolate":"monotone","color":"#888","strokeWidth":1}},
  {"transform":[{"filter":"datum.k=='eye'"}],"mark":{"type":"line","interpolate":"monotone","color":"#111","strokeWidth":2.2}}]},
{"width":131,"height":139,"view":{"stroke":null,"fill":"white"},"data":{"values":[{"h":"RX1, RX2"}]},
 "encoding":{"x":{"field":"h","type":"nominal","axis":null,"scale":{"type":"band","paddingInner":0,"paddingOuter":0.289,"align":0.417}},
  "y":{"field":"h","type":"nominal","axis":null,"scale":{"type":"band","paddingInner":0.45,"paddingOuter":1,"align":0.624}}},
 "layer":[{"mark":{"type":"rect","color":"#4d4d4d"}},{"mark":{"type":"text","color":"white","fontSize":16,"font":"Liberation Sans"},"encoding":{"text":{"field":"h"}}}]},
{"width":190,"height":139,"view":{"stroke":"#999","strokeDash":[1,2]},"data":{"name":"m1r3"},
 "encoding":{"x":{"field":"t","type":"quantitative","scale":{"domain":[0,2500],"nice":false},"axis":{"values":[0,500,1000,1500,2000,2500],"format":".2f","title":"Time (psec)","labelFlush":true}},
  "y":{"field":"v","type":"quantitative","scale":{"domain":[-600,600],"nice":false},"axis":{"values":[-600,-450,-300,-150,0,150,300,450,600],"format":".2f","title":null}},
  "detail":{"field":"s"}},
 "layer":[{"transform":[{"filter":"datum.k=='ref'"}],"mark":{"type":"line","interpolate":"monotone","color":"#888","strokeWidth":1}},
  {"transform":[{"filter":"datum.k=='eye'"}],"mark":{"type":"line","interpolate":"monotone","color":"#111","strokeWidth":2}}]},
{"width":187,"height":139,"view":{"stroke":"#999","strokeDash":[1,2]},"data":{"name":"m2r3"},
 "encoding":{"x":{"field":"t","type":"quantitative","scale":{"domain":[0,1250],"nice":false},"axis":{"values":[0,250,500,750,1000],"format":"d","title":"Time (psec)"}},
  "y":{"field":"v","type":"quantitative","scale":{"domain":[-600,600],"nice":false},"axis":{"values":[-600,-450,-300,-150,0,150,300,450,600],"labels":false,"ticks":false,"title":null}},
  "detail":{"field":"s"}},
 "layer":[{"transform":[{"filter":"datum.k=='ref'"}],"mark":{"type":"line","interpolate":"monotone","color":"#888","strokeWidth":1}},
  {"transform":[{"filter":"datum.k=='eye'"}],"mark":{"type":"line","interpolate":"monotone","color":"#111","strokeWidth":2.2}}]}
]
}
